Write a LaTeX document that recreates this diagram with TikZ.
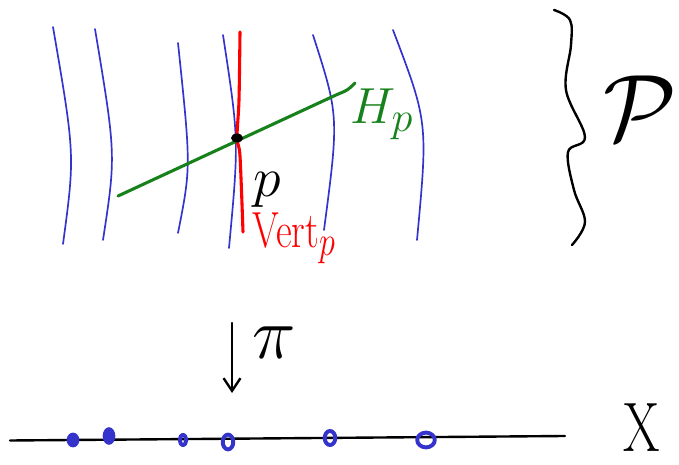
\documentclass[tikz,border=0pt]{standalone}
\usepackage{amsmath,amssymb}
\usepackage{xcolor,tikz}
\usetikzlibrary{arrows.meta,positioning,shapes.geometric}
\definecolor{fiberblue}{HTML}{3434CC}
\definecolor{horgreen}{HTML}{17821B}
\definecolor{vertred}{HTML}{FF0000}

\begin{document}
\begin{tikzpicture}[x=0.025cm,y=-0.025cm,line cap=round,line join=round,
  fiber/.style={fiberblue,line width=1.2pt},
  pen/.style={black,line width=1.7pt},
  dotfull/.style={ellipse,fill=fiberblue,inner sep=0pt,minimum width=9pt,minimum height=10.5pt},
  dotring/.style={ellipse,draw=fiberblue,line width=2.8pt,inner sep=0pt},
  lbl/.style={font=\Huge}]
\useasboundingbox (0,0) rectangle (679,465);

% fibres of the bundle
\foreach \a/\b/\c/\d/\e/\f in {53/27/75/155/63/244, 95/29/116/155/103/240,
    178/43/191/167/178/233, 223/35/239/140/229/248,
    313/35/339/116/324/230, 393/30/428/122/417/240}
  \draw[fiber] (\a,\b) .. controls (\c,\d) .. (\e,\f);

% vertical and horizontal spaces at p
\draw[vertred,line width=2.2pt] plot[smooth] coordinates
  {(240,32) (239,100) (237,138) (240,156) (243,232)};
\draw[horgreen,line width=2.2pt] (118,196) -- (336,95) .. controls (348,90) .. (355,83);
\fill[black] (237,138) ellipse (6 and 4.5);
\node[lbl,scale=1.6] (plabel) at (267,190) {$p$};
\node[lbl,scale=1.45,text=horgreen] (hlabel) at (382,114) {$H_p$};
\node[lbl,xscale=1.1,yscale=1.45,text=vertred] (vlabel) at (294,238) {$\mathrm{Vert}_p$};

% the total space
\draw[pen] plot[smooth,tension=0.6] coordinates
  {(554,10) (570,20) (571,45) (566,90) (585,137) (568,152) (574,190) (585,222) (572,245)};
\node[lbl,scale=2.7] (total) at (640,108) {$\mathcal{P}$};

% projection
\coordinate (projtop) at (232,323);
\coordinate (projbot) at (232,393);
\draw[pen,-{Straight Barb[length=9pt,width=12pt]}] (projtop) -- (projbot);
\node[lbl,scale=2.1] (pi) at (274,343) {$\pi$};

% the base
\coordinate (baseleft) at (10,440.5);
\coordinate (baseright) at (565,436);
\draw[pen] (baseleft) -- (baseright);
\node[lbl,xscale=1.5,yscale=2] (base) at (642,428) {$\mathrm{X}$};
\node[dotfull] (d1) at (73,440) {};
\node[dotfull,minimum height=12.5pt] (d2) at (109,436) {};
\node[dotring,minimum width=4.5pt,minimum height=7.5pt] (d3) at (183,440) {};
\node[dotring,minimum width=7.5pt,minimum height=10.5pt] (d4) at (228,442) {};
\node[dotring,minimum width=7.5pt,minimum height=10pt] (d5) at (330,438) {};
\node[dotring,minimum width=12.5pt,minimum height=10.5pt] (d6) at (426,440) {};
\end{tikzpicture}
\end{document}
